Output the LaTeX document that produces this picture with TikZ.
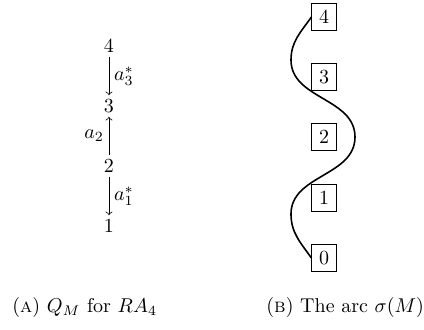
\documentclass[tikz,border=0pt]{standalone}
\usepackage{tikz}
\usetikzlibrary{positioning}

\tikzset{
  vert/.style={inner sep=2pt},
  numbox/.style={draw, line width=0.4pt, inner sep=3.6pt},
  quivarr/.style={->, line width=0.4pt},
  arclin/.style={line width=0.8pt},
  capt/.style={anchor=west, inner sep=0pt}
}

\begin{document}
\begin{tikzpicture}[x=0.5pt, y=-0.5pt]
  \useasboundingbox (0,0) rectangle (424,329);

  % (a) the quiver
  \node[vert] (q4) at (109,46) {$4$};
  \node[vert] (q3) at (109,106) {$3$};
  \node[vert] (q2) at (109,166) {$2$};
  \node[vert] (q1) at (109,226) {$1$};
  \draw[quivarr] (q4) -- (q3) node[midway, right=-1pt] {$a_3^*$};
  \draw[quivarr] (q2) -- (q3) node[midway, left=-1pt] {$a_2$};
  \draw[quivarr] (q2) -- (q1) node[midway, right=-1pt] {$a_1^*$};

  % (b) the arc
  \foreach \k/\y in {4/17, 3/77, 2/137, 1/198, 0/258}{
    \node[numbox] (s\k) at (324,\y) {$\k$};
  }
  \coordinate (l1) at (291,60);
  \coordinate (r2) at (355,137);
  \coordinate (l0) at (291,214);
  \draw[arclin] (s4.west) to[out=235, in=90] (l1)
    to[out=270, in=90] (r2)
    to[out=270, in=90] (l0)
    to[out=270, in=125] (s0.west);

  % captions
  \node[capt] (capa) at (12,307) {(\textsc{a}) $Q_M$ for $RA_4$};
  \node[capt] (capb) at (266,307) {(\textsc{b}) The arc $\sigma(M)$};
\end{tikzpicture}
\end{document}
